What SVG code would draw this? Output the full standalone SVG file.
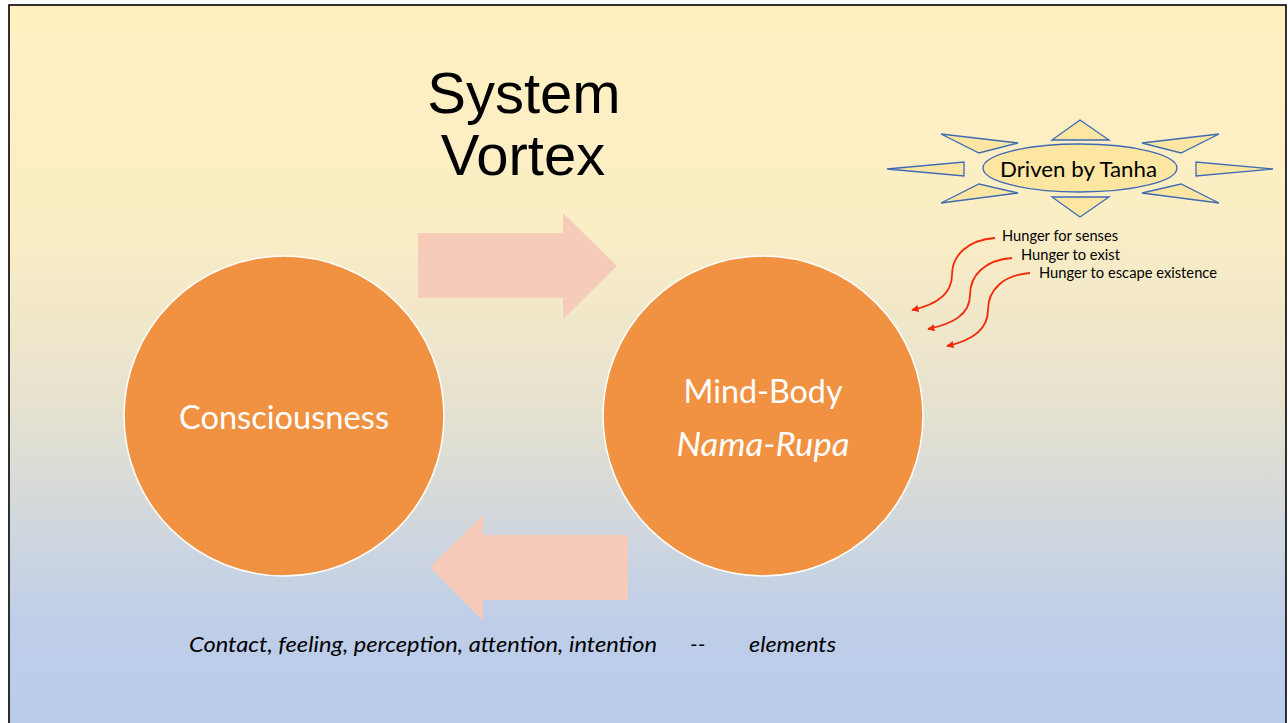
<svg xmlns="http://www.w3.org/2000/svg" width="1288" height="723" viewBox="0 0 1288 723">
<defs>
<linearGradient id="bg" x1="0" y1="0" x2="0" y2="1">
<stop offset="0" stop-color="#FFF0C2"/>
<stop offset="0.3" stop-color="#FCEEC4"/>
<stop offset="0.55" stop-color="#E6E2CF"/>
<stop offset="0.85" stop-color="#BFCEE8"/>
<stop offset="1" stop-color="#B9CCEC"/>
</linearGradient>
<marker id="ah" viewBox="0 0 10 10" refX="9" refY="5" markerWidth="4" markerHeight="4" orient="auto">
<path d="M0,0 L10,5 L0,10 z" fill="#F5290A"/>
</marker>
<style>
.circ{fill:#F09242;stroke:#FFFFFF;stroke-width:1.5}
.big{fill:#F6CBBA}
.ray{fill:#FDE6A2;stroke:#3D6AB5;stroke-width:1.3}
.hc{fill:none;stroke:#F5290A;stroke-width:1.8}
.sm{font-family:Lato,"Liberation Sans",sans-serif;font-size:14.5px;fill:#000}
.wt{font-family:Lato,"Liberation Sans",sans-serif;font-size:32px;fill:#FFFFFF;text-anchor:middle}
.it{font-family:Lato,"Liberation Sans",sans-serif;font-size:22px;font-style:italic;fill:#000}
</style>
</defs>
<rect x="0" y="0" width="1288" height="723" fill="#FFFFFF"/>
<rect x="9" y="5" width="1277" height="725" fill="url(#bg)" stroke="#000" stroke-width="1.6"/>
<g id="title">
<text x="524" y="113" font-family="Liberation Sans,Arial,sans-serif" font-size="58" text-anchor="middle" fill="#000">System</text>
<text x="523" y="175" font-family="Liberation Sans,Arial,sans-serif" font-size="58" text-anchor="middle" fill="#000">Vortex</text>
</g>
<g id="connectors">
<polygon class="big" points="418,233 563,233 563,213 617,266 563,319 563,298 418,298"/>
<polygon class="big" points="628,535 483,535 483,515 430,567 483,621 483,600 628,600"/>
<path class="hc" d="M995,238 C968,240 952,255 952,275 C952,295 935,305 912,310" marker-end="url(#ah)"/>
<path class="hc" d="M1012,258 C985,260 970,275 970,295 C970,315 952,324 928,329" marker-end="url(#ah)"/>
<path class="hc" d="M1030,273 C1003,275 988,290 988,310 C988,330 970,341 947,346" marker-end="url(#ah)"/>
</g>
<g id="consciousness">
<circle class="circ" cx="284" cy="416" r="160"/>
<text class="wt" x="284" y="429" textLength="210" lengthAdjust="spacingAndGlyphs">Consciousness</text>
</g>
<g id="mindbody">
<circle class="circ" cx="763" cy="416" r="160"/>
<text class="wt" x="763" y="403" textLength="159" lengthAdjust="spacingAndGlyphs">Mind-Body</text>
<text class="wt" x="763" y="456" font-style="italic" textLength="173" lengthAdjust="spacingAndGlyphs">Nama-Rupa</text>
</g>
<g id="tanha">
<polygon class="ray" points="1080,120 1052,140 1109,140"/>
<polygon class="ray" points="1080,217 1052,197 1109,197"/>
<polygon class="ray" points="887,169 964,162 964,176"/>
<polygon class="ray" points="1273,169 1196,162 1196,176"/>
<polygon class="ray" points="941,134 1018,143 979,153"/>
<polygon class="ray" points="941,203 1018,193 979,184"/>
<polygon class="ray" points="1219,134 1142,143 1181,153"/>
<polygon class="ray" points="1219,203 1142,193 1181,184"/>
<ellipse cx="1080" cy="168" rx="97" ry="24" fill="#FDE6A2" stroke="#3D6AB5" stroke-width="1.3"/>
<text x="1000" y="177" font-family="Lato,Liberation Sans,sans-serif" font-size="22" fill="#000" textLength="157" lengthAdjust="spacingAndGlyphs">Driven by Tanha</text>
</g>
<g id="hungers">
<text class="sm" x="1002" y="241" textLength="116" lengthAdjust="spacingAndGlyphs">Hunger for senses</text>
<text class="sm" x="1021" y="260" textLength="99" lengthAdjust="spacingAndGlyphs">Hunger to exist</text>
<text class="sm" x="1039" y="278" textLength="178" lengthAdjust="spacingAndGlyphs">Hunger to escape existence</text>
</g>
<g id="elements">
<text class="it" x="189" y="652" textLength="468" lengthAdjust="spacingAndGlyphs">Contact, feeling, perception, attention, intention</text>
<text class="it" x="690" y="652">--</text>
<text class="it" x="749" y="652" textLength="87" lengthAdjust="spacingAndGlyphs">elements</text>
</g>
</svg>
